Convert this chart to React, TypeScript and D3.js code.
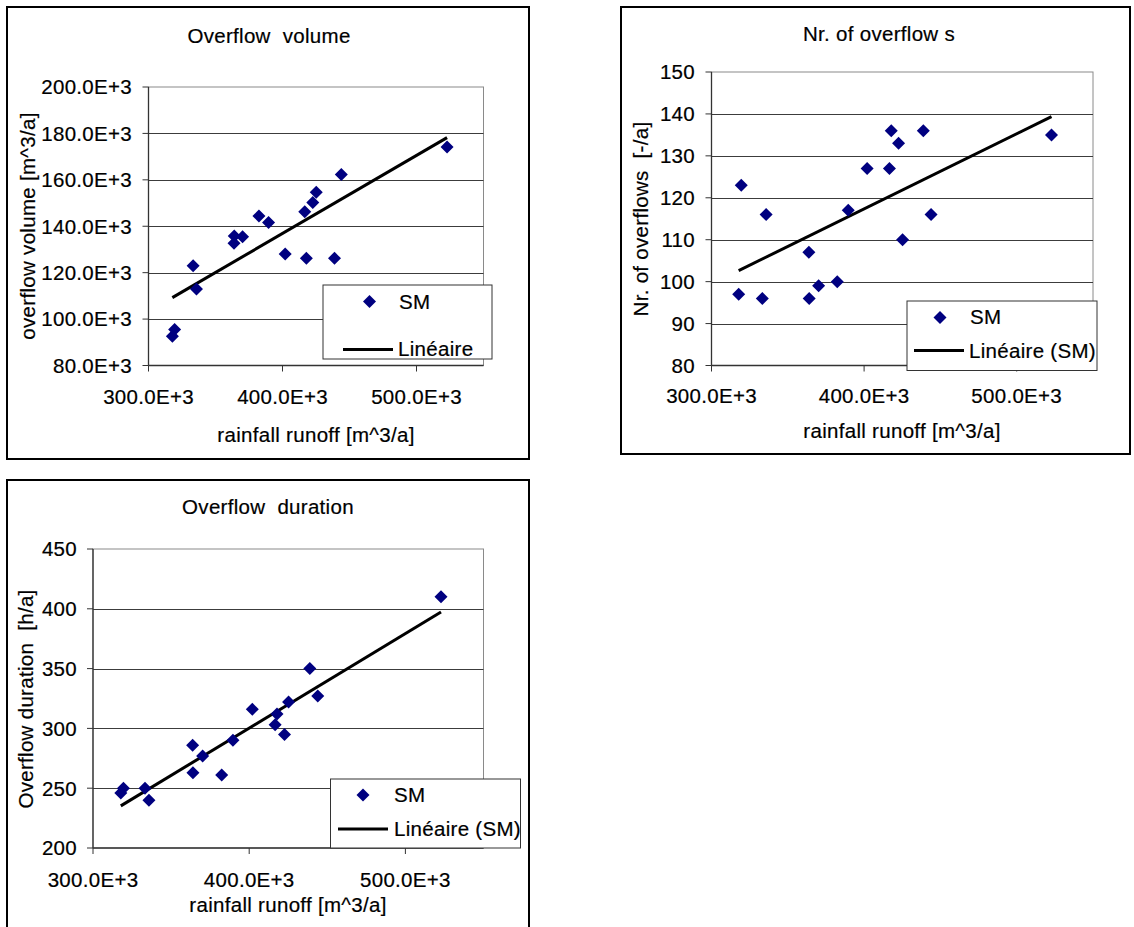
import React from 'react';
import * as d3 from 'd3';

// Rainfall runoff per catchment scenario [10^3 m^3/a]
const runoff = [317.8, 319.5, 333.3, 335.8, 363.8, 364.0, 370.2, 382.4, 389.6, 402.0, 416.6, 417.8, 422.6, 425.2, 438.8, 443.9, 522.8];
// Overflow volume [10^3 m^3/a]
const overflowVolume = [92.6, 95.5, 123.0, 113.0, 132.7, 135.8, 135.5, 144.4, 141.6, 128.0, 146.2, 126.2, 150.2, 154.7, 126.2, 162.3, 174.2];
// Number of overflows [-/a]
const overflowCount = [97, 123, 96, 116, 107, 96, 99, 100, 117, 127, 127, 136, 133, 110, 136, 116, 135];
// Overflow duration [h/a]
const overflowDuration = [246, 250, 250, 240, 286, 263, 277, 261, 290, 316, 303, 312, 295, 322, 350, 327, 410];

const runoffTicks = [300, 400, 500];
const volumeTicks = [80, 100, 120, 140, 160, 180, 200];
const countTicks = [80, 90, 100, 110, 120, 130, 140, 150];
const durationTicks = [200, 250, 300, 350, 400, 450];

const seriesName = 'SM';

const FONT = 'Liberation Sans, Arial, Helvetica, sans-serif';
const FS = 20.5;
const LS = 0.3;
const MARKER = '#000080';

const fmtE3 = (v: number) => `${v.toFixed(1)}E+3`;
const fmtInt = (v: number) => `${v}`;

type PanelCfg = {
  frame: { x1: number; y1: number; x2: number; y2: number };
  plot: { l: number; t: number; r: number; b: number };
  title: string;
  titlePos: [number, number];
  yLabel: string;
  yLabelPos: [number, number];
  xLabel: string;
  xLabelPos: [number, number];
  yTickRight: number;
  xTickBaseline: number;
  yTicks: number[];
  yFormat: (v: number) => string;
  values: number[];
  legend: {
    x1: number; y1: number; x2: number; y2: number;
    marker: [number, number];
    markerText: [number, number];
    line: [number, number, number];
    lineText: [number, number];
    lineLabel: string;
  };
};

function diamond(cx: number, cy: number, r: number) {
  return `M${cx},${cy - r}L${cx + r},${cy}L${cx},${cy + r}L${cx - r},${cy}Z`;
}

function linearFit(xs: number[], ys: number[]) {
  const mx = d3.mean(xs) as number;
  const my = d3.mean(ys) as number;
  const sxy = d3.sum(xs, (v, i) => (v - mx) * (ys[i] - my));
  const sxx = d3.sum(xs, (v) => (v - mx) * (v - mx));
  const slope = sxy / sxx;
  return { slope, intercept: my - slope * mx };
}

function Panel({ cfg }: { cfg: PanelCfg }) {
  const { plot, frame, legend } = cfg;
  const x = d3.scaleLinear().domain([300, 550]).range([plot.l, plot.r]);
  const yExt = d3.extent(cfg.yTicks) as [number, number];
  const y = d3.scaleLinear().domain(yExt).range([plot.b, plot.t]);
  const fit = linearFit(runoff, cfg.values);
  const [xMin, xMax] = d3.extent(runoff) as [number, number];
  const trend = d3.line<number>()
    .x((d) => x(d))
    .y((d) => y(fit.intercept + fit.slope * d))([xMin, xMax]);
  const textProps = {
    fontFamily: FONT, fontSize: FS, letterSpacing: LS, fill: '#000',
    stroke: '#000', strokeWidth: 0.2, style: { whiteSpace: 'pre' as const },
  };

  return (
    <g>
      <rect x={frame.x1} y={frame.y1} width={frame.x2 - frame.x1} height={frame.y2 - frame.y1}
        fill="#fff" stroke="#000" strokeWidth={2} />
      <text x={cfg.titlePos[0]} y={cfg.titlePos[1]} textAnchor="middle" {...textProps}>{cfg.title}</text>

      {/* plot area border */}
      <rect x={plot.l} y={plot.t} width={plot.r - plot.l} height={plot.b - plot.t}
        fill="#fff" stroke="#8a8a8a" strokeWidth={1} />
      {/* horizontal gridlines */}
      {cfg.yTicks.slice(1, -1).map((t) => (
        <line key={`g${t}`} x1={plot.l} x2={plot.r} y1={Math.round(y(t)) + 0.5} y2={Math.round(y(t)) + 0.5}
          stroke="#3c3c3c" strokeWidth={1} />
      ))}
      {/* axes */}
      <line x1={plot.l} x2={plot.l} y1={plot.t} y2={plot.b} stroke="#333" strokeWidth={1.3} />
      <line x1={plot.l} x2={plot.r} y1={plot.b} y2={plot.b} stroke="#333" strokeWidth={1.3} />
      {cfg.yTicks.map((t) => (
        <g key={`yt${t}`}>
          <line x1={plot.l - 6} x2={plot.l} y1={y(t)} y2={y(t)} stroke="#333" strokeWidth={1} />
          <text x={cfg.yTickRight} y={y(t)} dy="0.36em" textAnchor="end" {...textProps}>{cfg.yFormat(t)}</text>
        </g>
      ))}
      {runoffTicks.map((t) => (
        <g key={`xt${t}`}>
          <line x1={x(t)} x2={x(t)} y1={plot.b} y2={plot.b + 6} stroke="#333" strokeWidth={1} />
          <text x={x(t)} y={cfg.xTickBaseline} textAnchor="middle" {...textProps}>{fmtE3(t)}</text>
        </g>
      ))}

      {/* trend line */}
      <path d={trend ?? ''} stroke="#000" strokeWidth={3} fill="none" />
      {/* data points */}
      {runoff.map((rv, i) => (
        <path key={`p${i}`} d={diamond(x(rv), y(cfg.values[i]), 6.5)} fill={MARKER} />
      ))}

      {/* axis titles */}
      <text x={cfg.xLabelPos[0]} y={cfg.xLabelPos[1]} textAnchor="middle" {...textProps}>{cfg.xLabel}</text>
      <text transform={`translate(${cfg.yLabelPos[0]},${cfg.yLabelPos[1]}) rotate(-90)`} textAnchor="middle"
        {...textProps}>{cfg.yLabel}</text>

      {/* legend */}
      <rect x={legend.x1} y={legend.y1} width={legend.x2 - legend.x1} height={legend.y2 - legend.y1}
        fill="#fff" stroke="#333" strokeWidth={1} />
      <path d={diamond(legend.marker[0], legend.marker[1], 6.5)} fill={MARKER} />
      <text x={legend.markerText[0]} y={legend.markerText[1]} {...textProps}>{seriesName}</text>
      <line x1={legend.line[0]} x2={legend.line[1]} y1={legend.line[2]} y2={legend.line[2]} stroke="#000" strokeWidth={3} />
      <text x={legend.lineText[0]} y={legend.lineText[1]} {...textProps}>{legend.lineLabel}</text>
    </g>
  );
}

const panels: PanelCfg[] = [
  {
    frame: { x1: 7, y1: 7, x2: 529, y2: 459 },
    plot: { l: 148.5, t: 87, r: 483.5, b: 365.5 },
    title: 'Overflow  volume',
    titlePos: [269, 43],
    yLabel: 'overflow volume [m^3/a]',
    yLabelPos: [34.5, 226],
    xLabel: 'rainfall runoff [m^3/a]',
    xLabelPos: [316, 442],
    yTickRight: 132,
    xTickBaseline: 404,
    yTicks: volumeTicks,
    yFormat: fmtE3,
    values: overflowVolume,
    legend: {
      x1: 323, y1: 285, x2: 492, y2: 359,
      marker: [369.5, 301.5],
      markerText: [399, 308.5],
      line: [343, 393, 349.5],
      lineText: [398, 356],
      lineLabel: 'Linéaire',
    },
  },
  {
    frame: { x1: 621, y1: 7, x2: 1130, y2: 454 },
    plot: { l: 711.5, t: 72, r: 1093, b: 365.5 },
    title: 'Nr. of overflow s',
    titlePos: [879, 41],
    yLabel: 'Nr. of overflows  [-/a]',
    yLabelPos: [648, 219],
    xLabel: 'rainfall runoff [m^3/a]',
    xLabelPos: [902, 438],
    yTickRight: 695,
    xTickBaseline: 403,
    yTicks: countTicks,
    yFormat: fmtInt,
    values: overflowCount,
    legend: {
      x1: 907, y1: 301, x2: 1097, y2: 370.5,
      marker: [940, 317.5],
      markerText: [970, 324],
      line: [914, 964, 350.5],
      lineText: [969, 358],
      lineLabel: 'Linéaire (SM)',
    },
  },
  {
    frame: { x1: 7, y1: 480, x2: 529, y2: 945 },
    plot: { l: 93, t: 549, r: 483.5, b: 848 },
    title: 'Overflow  duration',
    titlePos: [268, 514],
    yLabel: 'Overflow duration  [h/a]',
    yLabelPos: [33, 699],
    xLabel: 'rainfall runoff [m^3/a]',
    xLabelPos: [288, 912],
    yTickRight: 77,
    xTickBaseline: 887,
    yTicks: durationTicks,
    yFormat: fmtInt,
    values: overflowDuration,
    legend: {
      x1: 330.5, y1: 779, x2: 520.5, y2: 848,
      marker: [363, 795],
      markerText: [394, 801.5],
      line: [338, 388, 829],
      lineText: [394, 836],
      lineLabel: 'Linéaire (SM)',
    },
  },
];

export default function App() {
  return (
    <svg width={1134} height={927} style={{ position: 'absolute', left: 0, top: 0, background: '#fff' }}>
      <rect x={0} y={0} width={1134} height={927} fill="#fff" />
      {panels.map((p, i) => (
        <Panel key={i} cfg={p} />
      ))}
    </svg>
  );
}
